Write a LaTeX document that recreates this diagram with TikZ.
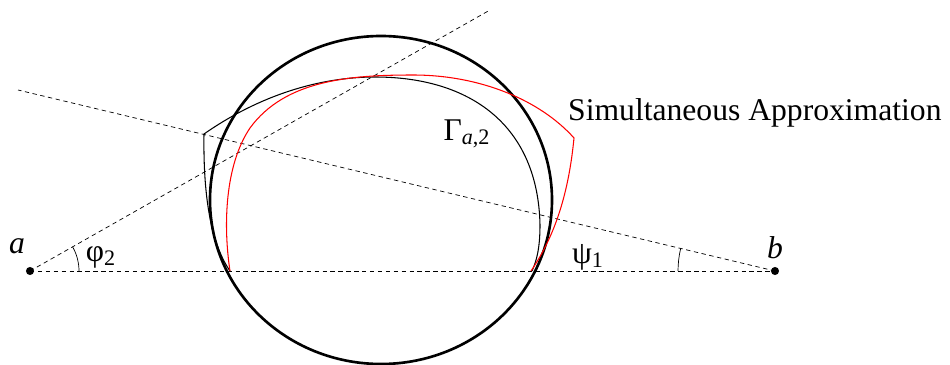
\documentclass[tikz,border=0pt]{standalone}
\usepackage{fontspec}
\setmainfont{Liberation Serif}
\usepackage{tikz}
\usetikzlibrary{angles}

\begin{document}
\begin{tikzpicture}[x=0.02cm, y=-0.02cm, font=\fontsize{18}{20}\selectfont,
    guide/.style={thin, dash pattern=on 2.5pt off 2pt}]
        \useasboundingbox (0,0) rectangle (950,365);

        % 点
        \coordinate (a) at (30,271);
        \coordinate (b) at (775,271);
        \coordinate (pa) at (490,10);
        \coordinate (qb) at (18,90);
        \fill (a) circle (2.3pt);
        \fill (b) circle (2.3pt);

        % 破線
        \draw[guide] (a) -- (b);
        \draw[guide] (a) -- (pa);
        \draw[guide] (b) -- (qb);

        % 角
        \pic[draw, thin, angle radius=0.98cm] {angle = b--a--pa};
        \pic[draw, thin, angle radius=1.94cm] {angle = qb--b--a};

        % 円
        \draw[line width=1.5pt] (381,200) ellipse [x radius=171, y radius=164];

        % 曲線
        \draw[semithick] (230,271) .. controls (212,245) and (203,200) .. (204,134)
          .. controls (260,95) and (320,77) .. (375,77)
          .. controls (470,77) and (538,125) .. (540,225)
          .. controls (540,250) and (536,262) .. (532,271);
        \draw[semithick, red] (230,271) .. controls (223,225) and (225,165) .. (250,128)
          .. controls (285,80) and (350,75) .. (413,75)
          .. controls (480,75) and (540,100) .. (574,138)
          .. controls (568,200) and (552,240) .. (531,271);

        % ラベル
        \node (la) at (17,246) {\textit{a}};
        \node (lb) at (775,248) {\textit{b}};
        \node (phi) at (101,257) {φ\textsubscript{2}};
        \node (psi) at (588,257) {ψ\textsubscript{1}};
        \node (gam) at (467,134) {Γ\textsubscript{\textit{a},2}};
        \node[anchor=west] (sim) at (562,113) {Simultaneous Approximation};
      \end{tikzpicture}
\end{document}
